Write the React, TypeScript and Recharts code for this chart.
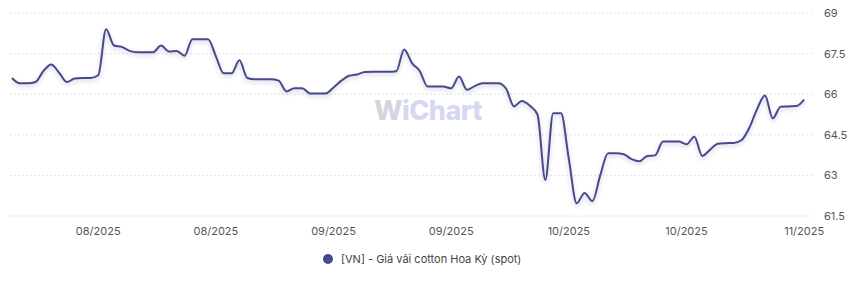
import { LineChart, Line, XAxis, YAxis, CartesianGrid } from 'recharts';

// daily spot values
const values = [
  66.6, 66.4, 66.4, 66.45, 66.85, 67.1, 66.8, 66.45, 66.58, 66.6,
  66.6, 66.7, 68.4, 67.8, 67.75, 67.6, 67.55, 67.55, 67.55, 67.8,
  67.58, 67.6, 67.42, 68.03, 68.03, 68.03, 67.4, 66.77, 66.77, 67.25,
  66.6, 66.55, 66.55, 66.55, 66.5, 66.1, 66.22, 66.22, 66.03, 66.03,
  66.03, 66.25, 66.5, 66.68, 66.73, 66.82, 66.83, 66.83, 66.83, 66.85,
  67.65, 67.15, 66.85, 66.28, 66.28, 66.28, 66.22, 66.65, 66.16, 66.3,
  66.4, 66.4, 66.4, 66.2, 65.55, 65.75, 65.58, 65.25, 62.83, 65.3,
  65.3, 63.6, 61.97, 62.35, 62.05, 63.0, 63.82, 63.82, 63.78, 63.6,
  63.52, 63.72, 63.74, 64.25, 64.25, 64.25, 64.15, 64.43, 63.72, 63.95,
  64.17, 64.19, 64.2, 64.3, 64.75, 65.45, 65.95, 65.11, 65.54, 65.55,
  65.56, 65.8,
];

const tickIdx = [11, 26, 41, 56, 71, 86, 101];
const tickLabels = ['08/2025', '08/2025', '09/2025', '09/2025', '10/2025', '10/2025', '11/2025'];
const yTicks = [61.5, 63, 64.5, 66, 67.5, 69];

const seriesName = '[VN] - Giá vải cotton Hoa Kỳ (spot)';
const lineColor = '#454a8c';

const data = values.map((v, i) => ({ i, v }));

const font = 'Inter, "Noto Sans", sans-serif';

export default function App() {
  return (
    <div style={{ position: 'absolute', left: 0, top: 0, width: 856, height: 283, background: '#fff', fontFamily: font }}>
      <style>{`.recharts-line-curve { filter: drop-shadow(0 2px 2px rgba(69,74,140,0.3)); }`}</style>
      <div
        style={{
          position: 'absolute',
          left: 374,
          top: 94,
          fontSize: 27,
          fontWeight: 800,
          letterSpacing: -0.5,
          pointerEvents: 'none',
          userSelect: 'none',
        }}
      >
        <span style={{ color: '#d3d5dc' }}>W</span>
        <span style={{ color: '#d4d8f3' }}>iChart</span>
      </div>
      <LineChart width={856} height={246} data={data} margin={{ top: 13, right: 0, left: 10, bottom: 0 }}>
        <CartesianGrid vertical={false} stroke="#e3e3e3" strokeDasharray="2 2" />
        <XAxis
          dataKey="i"
          type="number"
          domain={[-0.25, 102]}
          ticks={tickIdx}
          tickFormatter={(value) => tickLabels[tickIdx.indexOf(value)] ?? ''}
          axisLine={false}
          tickLine={false}
          tickSize={0}
          tickMargin={11}
          height={30}
          tick={{ fontSize: 11, fill: '#555', fontFamily: font }}
        />
        <YAxis
          orientation="right"
          domain={[61.5, 69]}
          ticks={yTicks}
          axisLine={false}
          tickLine={false}
          tickSize={0}
          tickMargin={12}
          width={44}
          tick={{ fontSize: 11, fill: '#555', fontFamily: font }}
        />
        <Line
          type="monotone"
          dataKey="v"
          name={seriesName}
          stroke={lineColor}
          strokeWidth={2}
          dot={false}
          isAnimationActive={false}
        />
      </LineChart>
      <div
        style={{
          position: 'absolute',
          left: 323,
          top: 252,
          display: 'flex',
          alignItems: 'center',
          fontSize: 11,
          color: '#444',
          whiteSpace: 'nowrap',
        }}
      >
        <span
          style={{
            display: 'inline-block',
            width: 10,
            height: 10,
            borderRadius: '50%',
            background: lineColor,
            marginRight: 8,
          }}
        />
        {seriesName}
      </div>
    </div>
  );
}
